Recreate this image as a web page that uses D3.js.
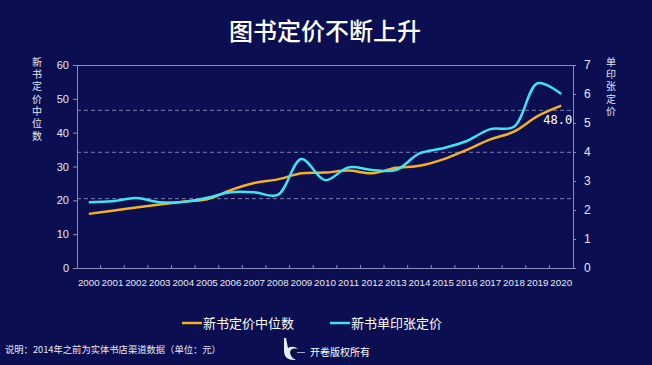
<!DOCTYPE html>
<html><head><meta charset="utf-8">
<script src="https://cdn.jsdelivr.net/npm/d3@7/dist/d3.min.js"></script>
<style>
html,body{margin:0;padding:0;background:#0b0e50;}
svg{display:block;font-family:"Noto Sans CJK SC","Noto Sans",sans-serif;}
</style></head>
<body><svg id="c" width="652" height="365"></svg>
<script>
const years = ["2000","2001","2002","2003","2004","2005","2006","2007","2008","2009","2010","2011","2012","2013","2014","2015","2016","2017","2018","2019","2020"];
const medianPrice = [16,16.9,17.9,18.8,19.6,20.3,23.0,25.1,26.2,28.0,28.2,28.8,28.0,29.6,30.2,32.1,34.9,38.0,40.3,44.9,48.0];
const sheetPrice = [2.27,2.30,2.41,2.27,2.28,2.42,2.61,2.61,2.52,3.76,3.03,3.47,3.38,3.38,3.95,4.13,4.38,4.79,4.87,6.37,6.0];
const leftTicks = [0,10,20,30,40,50,60];
const rightTicks = [0,1,2,3,4,5,6,7];
const gridValues = [20.5,34.2,46.6];
const seriesNames = ["新书定价中位数","新书单印张定价"];
const colors = ["#f4b223","#3fe3f2"];

const svg = d3.select("#c");
const L = 77, R = 573, T = 65, B = 268;
const x = d3.scaleBand().domain(years).range([L, R]);
const yL = d3.scaleLinear().domain([0,60]).range([B, T]);
const yR = d3.scaleLinear().domain([0,7]).range([B, T]);
const axisCol = "#8a8fb8", textCol = "#e6e8f2";

// title
svg.append("text").attr("x",325).attr("y",40).attr("text-anchor","middle")
  .attr("fill","#ffffff").attr("font-size",24).attr("font-weight",500).text("图书定价不断上升");

// grid
svg.append("g").selectAll("line").data(gridValues).join("line")
  .attr("x1",L).attr("x2",R).attr("y1",d=>yL(d)).attr("y2",d=>yL(d))
  .attr("stroke","#7c80b4").attr("stroke-dasharray","4,3").attr("stroke-width",1);
// top border
svg.append("line").attr("x1",L).attr("x2",R).attr("y1",T+0.5).attr("y2",T+0.5)
  .attr("stroke",axisCol).attr("stroke-width",1);

function styleAxis(g){
  g.selectAll("path,line").attr("stroke",axisCol);
  g.selectAll("text").attr("fill",textCol).attr("font-size",11).attr("font-family","Liberation Sans, Arial, sans-serif");
}
const gl = svg.append("g").attr("transform",`translate(${L},0)`)
  .call(d3.axisLeft(yL).tickValues(leftTicks).tickFormat(d3.format("d")).tickSize(4).tickSizeOuter(0).tickPadding(4));
styleAxis(gl);
const gr = svg.append("g").attr("transform",`translate(${R},0)`)
  .call(d3.axisRight(yR).tickValues(rightTicks).tickFormat(d3.format("d")).tickSize(3).tickSizeOuter(0).tickPadding(8));
styleAxis(gr); gr.selectAll("text").attr("font-size",12);
const gb = svg.append("g").attr("transform",`translate(0,${B})`)
  .call(d3.axisBottom(x).tickSize(0).tickSizeOuter(0).tickPadding(11));
styleAxis(gb); gb.selectAll("text").attr("font-size",9.8);
// band boundary ticks
gb.append("g").selectAll("line").data(years.slice(1)).join("line")
  .attr("x1",d=>x(d)).attr("x2",d=>x(d)).attr("y1",-3).attr("y2",0).attr("stroke",axisCol);

// axis titles (vertical, one text each)
function vtext(xp, y0, str){
  svg.append("text").attr("x",xp).attr("y",y0)
    .attr("writing-mode","vertical-rl").attr("style","writing-mode:vertical-rl;text-orientation:upright;letter-spacing:2.3px")
    .attr("fill",textCol).attr("font-size",10).text(str);
}
vtext(37,57,"新书定价中位数");
vtext(611,57,"单印张定价");

// lines
const cx = d => x(d) + x.bandwidth()/2;
const lineL = d3.line().x((d,i)=>cx(years[i])).y(d=>yL(d)).curve(d3.curveCatmullRom.alpha(0.5));
const lineR = d3.line().x((d,i)=>cx(years[i])).y(d=>yR(d)).curve(d3.curveCatmullRom.alpha(0.5));
svg.append("path").attr("d",lineL(medianPrice)).attr("fill","none").attr("stroke",colors[0]).attr("stroke-width",2.5);
svg.append("path").attr("d",lineR(sheetPrice)).attr("fill","none").attr("stroke",colors[1]).attr("stroke-width",2.5);

// last value label
svg.append("text").attr("x",cx(years[20])+11).attr("y",yL(medianPrice[20])+18).attr("text-anchor","end")
  .attr("fill","#ffffff").attr("font-size",12).attr("font-family","DejaVu Sans Mono, monospace")
  .text(medianPrice[20].toFixed(1));

// legend
const lg = [{x:182},{x:330}];
lg.forEach((p,i)=>{
  svg.append("line").attr("x1",p.x).attr("x2",p.x+20).attr("y1",323).attr("y2",323)
    .attr("stroke",colors[i]).attr("stroke-width",2.5);
  svg.append("text").attr("x",p.x+21).attr("y",328).attr("fill","#ffffff").attr("font-size",13).text(seriesNames[i]);
});

// footnote
svg.append("text").attr("x",5).attr("y",353).attr("fill","#e6e8f2").attr("font-size",9.3)
  .text("说明：2014年之前为实体书店渠道数据（单位：元）");

// logo
const lgG = svg.append("g");
lgG.append("path").attr("d","M284,338 L284,352 Q285,361 296,360 Q290,357 290,352 Q291,347 298,349 Q293,345 288,348 L286,338 Z")
  .attr("fill","#e8ecf8");
lgG.append("line").attr("x1",297).attr("x2",305).attr("y1",352.5).attr("y2",352.5).attr("stroke","#c9cde8").attr("stroke-width",0.8);
svg.append("text").attr("x",310).attr("y",356).attr("fill","#ffffff").attr("font-size",10).text("开卷版权所有");
</script></body></html>
